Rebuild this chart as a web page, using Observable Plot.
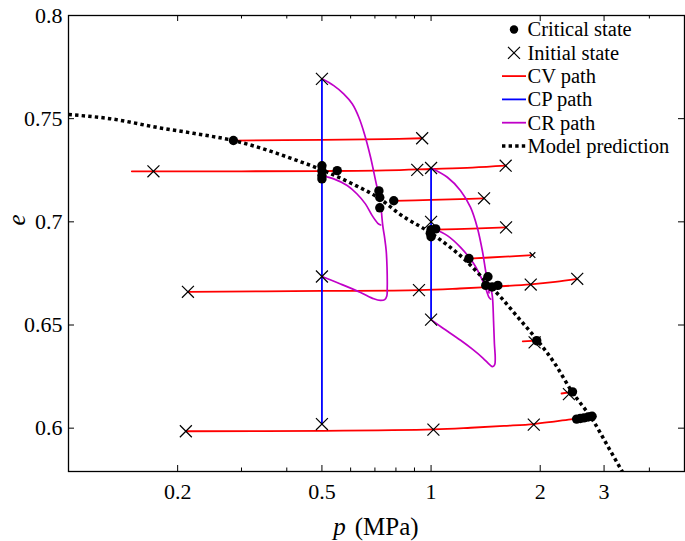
<!DOCTYPE html>
<html><head><meta charset="utf-8">
<script src="https://cdn.jsdelivr.net/npm/d3@7"></script>
<script src="https://cdn.jsdelivr.net/npm/@observablehq/plot@0.6"></script>
<style>
html,body{margin:0;padding:0;background:#fff;}
#chart{width:685px;height:541px;}
#chart svg, #chart svg text{font-family:"Liberation Serif","DejaVu Serif",serif !important;}
</style></head><body><div id="chart"></div>
<script>
// ---------- data ----------
const xDomain = [0.1, 5];
const yDomain = [0.579, 0.8];
const xLabelTicks = [0.2, 0.5, 1, 2, 3];
const xMinorTicks = [0.3, 0.4, 0.6, 0.7, 0.8, 0.9, 4];
const yTicks = [0.6, 0.65, 0.7, 0.75, 0.8];

// Model prediction (critical state line)
const modelP = [0.1, 0.13, 0.179, 0.221, 0.285, 0.35, 0.418, 0.5, 0.6, 0.725, 0.823, 1.0, 1.259, 1.453, 1.556, 1.75, 1.96, 2.2, 2.43, 2.8, 3.1, 3.4];
const modelE = [0.752, 0.750, 0.7455, 0.7429, 0.7394, 0.735, 0.7303, 0.7252, 0.7188, 0.711, 0.7035, 0.6945, 0.6805, 0.669, 0.6635, 0.653, 0.6428, 0.631, 0.6185, 0.6036, 0.590, 0.5777];

// Critical states
const criticalP = [0.285, 0.5, 0.5, 0.5, 0.5, 0.551, 0.718, 0.722, 0.722, 0.789, 1.0, 1.03, 1.0, 0.995, 1.272, 1.435, 1.415, 1.474, 1.528, 1.956, 2.455, 2.52, 2.58, 2.64, 2.71, 2.78];
const criticalE = [0.7394, 0.7272, 0.7248, 0.7224, 0.7208, 0.7248, 0.715, 0.7118, 0.7068, 0.7102, 0.6962, 0.6966, 0.6928, 0.6945, 0.6822, 0.6734, 0.6692, 0.6684, 0.6692, 0.6424, 0.6176, 0.6044, 0.6047, 0.605, 0.6054, 0.6058];

// Initial states
const initialP = [0.5, 0.945, 0.1715, 0.916, 1.0, 1.606, 1.40, 1.0, 1.61, 0.5, 0.2135, 0.926, 1.0, 1.883, 2.53, 1.93, 2.40, 0.5, 0.2107, 1.015, 1.92];
const initialE = [0.7693, 0.7405, 0.7245, 0.7252, 0.7261, 0.7272, 0.7114, 0.700, 0.6973, 0.6735, 0.6661, 0.6669, 0.6526, 0.6696, 0.6724, 0.6416, 0.6165, 0.602, 0.5985, 0.5993, 0.6017];
const initialSmallP = [1.904];
const initialSmallE = [0.6839];

// CV paths (constant volume)
const cvPath = ["A","A","A","A", "B","B","B","B","B","B","B", "C","C","C","C", "D","D","D", "E","E","E", "F","F","F","F","F","F","F","F", "G","G", "H","H", "I","I","I","I","I","I","I","I","I"];
const cvP = [0.285,0.5,0.75,0.945, 0.1495,0.3,0.5,0.75,1.0,1.3,1.606, 0.789,1.0,1.2,1.40, 1.02,1.3,1.61, 1.272,1.6,1.904, 0.2135,0.5,0.926,1.2,1.5,1.883,2.2,2.53, 1.79,1.956, 2.29,2.455, 0.2107,0.5,1.015,1.287,1.589,1.92,2.184,2.455,2.6];
const cvE = [0.7394,0.7397,0.7401,0.7405, 0.7245,0.7245,0.7246,0.7249,0.7256,0.7263,0.7272, 0.7102,0.7106,0.711,0.7114, 0.6962,0.6967,0.6973, 0.6822,0.6831,0.6839, 0.6661,0.6665,0.6669,0.6677,0.6686,0.6697,0.6709,0.6724, 0.6421,0.6424, 0.6168,0.6176, 0.5985,0.5987,0.5994,0.6002,0.6011,0.602,0.6032,0.6044,0.6048];

// CP paths (constant p)
const cpPath = ["P1","P1","P2","P2"];
const cpP = [0.5, 0.5, 1.0, 1.0];
const cpE = [0.7693, 0.602, 0.7261, 0.6526];

// CR paths
const crPath = ["R1","R1","R1","R1","R1","R1","R1","R1","R1",
  "R2","R2","R2","R2","R2","R2","R2","R2",
  "R3","R3","R3","R3","R3","R3","R3","R3","R3","R3","R3","R3","R3",
  "R4","R4","R4","R4","R4","R4","R4","R4","R4",
  "R5","R5","R5","R5","R5","R5","R5",
  "R6","R6","R6","R6","R6","R6","R6","R6","R6","R6","R6","R6","R6"];
const crP = [0.5,0.539,0.574,0.606,0.632,0.655,0.681,0.703,0.713,
  0.5,0.539,0.587,0.625,0.659,0.688,0.713,0.726,
  0.5,0.5625,0.639,0.695,0.725,0.745,0.755,0.757,0.756,0.752,0.745,0.736,0.730,
  1.0,1.109,1.206,1.285,1.341,1.385,1.414,1.435,1.445,
  1.02,1.109,1.206,1.313,1.40,1.445,1.46,
  1.0,1.062,1.206,1.30,1.39,1.45,1.478,1.498,1.503,1.495,1.487,1.477,1.465];
const crE = [0.7693,0.766,0.762,0.7572,0.7507,0.7426,0.7313,0.720,0.7151,
  0.7224,0.7208,0.7176,0.7135,0.7087,0.703,0.6993,0.6985,
  0.6735,0.6699,0.6658,0.6627,0.6619,0.6623,0.664,0.668,0.678,0.686,0.692,0.698,0.7045,
  0.7261,0.7216,0.7151,0.707,0.6973,0.686,0.6763,0.6699,0.6655,
  0.6965,0.6933,0.6876,0.6796,0.6699,0.6634,0.6625,
  0.6526,0.6493,0.6426,0.6383,0.634,0.6308,0.6298,0.6308,0.634,0.641,0.652,0.6634,0.667];

const legendLabels = ["Critical state", "Initial state", "CV path", "CP path", "CR path", "Model prediction"];

// ---------- build ----------
const rows = (ps, es, ids) => ps.map((p, i) => ({p, e: es[i], id: ids ? ids[i] : 0}));
const model = rows(modelP, modelE);
const critical = rows(criticalP, criticalE);
const initial = rows(initialP, initialE);
const initialSmall = rows(initialSmallP, initialSmallE);
const cv = rows(cvP, cvE, cvPath);
const cp = rows(cpP, cpE, cpPath);
const cr = rows(crP, crE, crPath);

const W = 685, H = 541, mT = 15, mL = 68, mR = 1, mB = 70;
const plotH = H - mT - mB, plotW = W - mL - mR;
const fontFam = "Liberation Serif, DejaVu Serif, serif";
const RED = "#ff0000", BLUE = "#0000ff", MAG = "#c000c8";

const chart = Plot.plot({
  width: W, height: H, marginTop: mT, marginLeft: mL, marginRight: mR, marginBottom: mB,
  style: {fontFamily: fontFam, fontSize: "22px", color: "#000", background: "#fff"},
  x: {type: "log", domain: xDomain},
  y: {domain: yDomain},
  marks: [
    Plot.line(cv, {x: "p", y: "e", z: "id", stroke: RED, strokeWidth: 1.8, curve: "catmull-rom"}),
    Plot.line(cp, {x: "p", y: "e", z: "id", stroke: BLUE, strokeWidth: 1.8}),
    Plot.line(cr, {x: "p", y: "e", z: "id", stroke: MAG, strokeWidth: 1.7, curve: "catmull-rom"}),
    Plot.line(model, {x: "p", y: "e", stroke: "#000", strokeWidth: 3.5, strokeDasharray: "3.4,3.2", strokeLinecap: "butt", curve: "monotone-x", clip: true}),
    Plot.dot(initial, {x: "p", y: "e", symbol: "times", r: 5.5, stroke: "#000", strokeWidth: 1.2}),
    Plot.dot(initialSmall, {x: "p", y: "e", symbol: "times", r: 2.7, stroke: "#000", strokeWidth: 1.2}),
    Plot.dot(critical, {x: "p", y: "e", r: 4.7, fill: "#000", stroke: null}),
    Plot.frame({stroke: "#000", strokeWidth: 1.3}),
    Plot.ruleX(xLabelTicks, {insetTop: plotH - 6, stroke: "#000", strokeWidth: 1}),
    Plot.ruleX(xLabelTicks, {insetBottom: plotH - 6, stroke: "#000", strokeWidth: 1}),
    Plot.ruleX(xMinorTicks, {insetTop: plotH - 3.5, stroke: "#000", strokeWidth: 1}),
    Plot.ruleX(xMinorTicks, {insetBottom: plotH - 3.5, stroke: "#000", strokeWidth: 1}),
    Plot.ruleY(yTicks, {insetRight: plotW - 6, stroke: "#000", strokeWidth: 1}),
    Plot.ruleY(yTicks, {insetLeft: plotW - 6, stroke: "#000", strokeWidth: 1}),
    Plot.axisX(xLabelTicks, {anchor: "bottom", tickSize: 0, tickPadding: 12, fontSize: 22, tickFormat: d => String(d), label: null}),
    Plot.axisY(yTicks, {anchor: "left", tickSize: 0, tickPadding: 6, fontSize: 22, tickFormat: d => String(d), label: null})
  ]
});
document.getElementById("chart").appendChild(chart);

// ---------- axis titles and legend ----------
const svg = d3.select(chart);
const xt = svg.append("text").attr("x", mL + plotW / 2).attr("y", 535)
  .attr("text-anchor", "middle").attr("font-family", fontFam).attr("font-size", 25).attr("fill", "#000");
xt.append("tspan").attr("font-style", "italic").text("p");
xt.append("tspan").attr("dx", 9).text("(MPa)");
svg.append("text").attr("transform", "translate(25,220) rotate(-90)")
  .attr("text-anchor", "middle").attr("font-family", fontFam).attr("font-size", 25)
  .attr("font-style", "italic").attr("fill", "#000").text("e");

const lg = svg.append("g").attr("font-family", fontFam).attr("font-size", 20.5).attr("fill", "#000").attr("text-anchor", "start");
const legendStroke = [null, null, RED, BLUE, MAG, "#000"];
legendLabels.forEach((lab, i) => {
  const y = 29.5 + i * 23.3;
  if (i === 0) lg.append("circle").attr("cx", 514).attr("cy", y).attr("r", 4.2).attr("fill", "#000");
  else if (i === 1) lg.append("path").attr("d", `M508,${y-6}L520,${y+6}M508,${y+6}L520,${y-6}`).attr("stroke", "#000").attr("stroke-width", 1.2);
  else if (i < 5) lg.append("line").attr("x1", 502).attr("x2", 526).attr("y1", y).attr("y2", y).attr("stroke", legendStroke[i]).attr("stroke-width", 1.8);
  else lg.append("line").attr("x1", 502).attr("x2", 526).attr("y1", y).attr("y2", y).attr("stroke", "#000").attr("stroke-width", 3.5).attr("stroke-dasharray", "3.4,3.2");
  lg.append("text").attr("x", 527.5).attr("y", y).attr("dy", "0.34em").attr("text-anchor", "start").text(lab);
});
</script>
</body></html>
